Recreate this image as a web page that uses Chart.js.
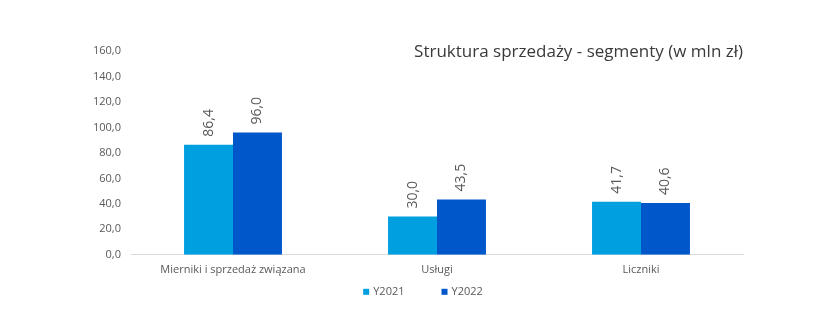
<!DOCTYPE html>
<html>
<head>
<meta charset="utf-8">
<script src="https://cdn.jsdelivr.net/npm/chart.js@4/dist/chart.umd.min.js"></script>
<style>
  html, body { margin: 0; padding: 0; background: #fff; }
  #wrap { width: 840px; height: 336px; }
</style>
</head>
<body>
<div id="wrap"><canvas id="myChart" width="840" height="336"></canvas></div>
<script>
// segmenty sprzedaży
var categories = ['Mierniki i sprzedaż związana', 'Usługi', 'Liczniki'];
var y2021 = [86.4, 30.0, 41.7];
var y2022 = [96.0, 43.5, 40.6];
var yTicks = [0, 20, 40, 60, 80, 100, 120, 140, 160];
var seriesNames = ['Y2021', 'Y2022'];
var seriesColors = ['#009FDF', '#0057C9'];

var chartTitle = 'Struktura sprzedaży - segmenty (w mln zł)';
var fontFamily = '"Open Sans", "Noto Sans", sans-serif';

function fmt(v) {
	return v.toFixed(1).replace('.', ',');
}

/* wartości nad słupkami, obrócone pionowo */
var valueLabels = {
	id: 'valueLabels',
	afterDatasetsDraw: function(chart) {
		var ctx = chart.ctx;
		ctx.save();
		ctx.font = '14px ' + fontFamily;
		ctx.fillStyle = '#595959';
		ctx.textAlign = 'left';
		ctx.textBaseline = 'middle';
		chart.data.datasets.forEach(function(ds, i) {
			var meta = chart.getDatasetMeta(i);
			meta.data.forEach(function(bar, j) {
				ctx.save();
				ctx.translate(bar.x, bar.y - 8);
				ctx.rotate(-Math.PI / 2);
				ctx.fillText(fmt(ds.data[j]), 0, 0);
				ctx.restore();
			});
		});
		ctx.restore();
	}
};

/* tytuł w prawym górnym rogu wykresu */
var cornerTitle = {
	id: 'cornerTitle',
	afterDraw: function(chart) {
		var ctx = chart.ctx;
		ctx.save();
		ctx.font = '17px ' + fontFamily;
		ctx.fillStyle = '#3A3A3A';
		ctx.textAlign = 'right';
		ctx.textBaseline = 'middle';
		ctx.fillText(chartTitle, chart.chartArea.right, 52);
		ctx.restore();
	}
};

/* legenda pod osią - małe kwadraty, szeroki odstęp */
var bottomLegend = {
	id: 'bottomLegend',
	afterDraw: function(chart) {
		var ctx = chart.ctx;
		var box = 6, gap = 4, spacing = 37;
		ctx.save();
		ctx.font = '11px ' + fontFamily;
		ctx.textBaseline = 'middle';
		ctx.textAlign = 'left';
		var widths = seriesNames.map(function(n) { return box + gap + ctx.measureText(n).width; });
		var total = widths.reduce(function(a, b) { return a + b; }, 0) + spacing * (widths.length - 1);
		var x = (chart.chartArea.left + chart.chartArea.right) / 2 - 14 - total / 2;
		var y = chart.chartArea.bottom + 37;
		seriesNames.forEach(function(n, i) {
			ctx.fillStyle = seriesColors[i];
			ctx.fillRect(x, y - box / 2, box, box);
			ctx.fillStyle = '#595959';
			ctx.fillText(n, x + box + gap, y);
			x += widths[i] + spacing;
		});
		ctx.restore();
	}
};

function createChart() {
	var ctx = document.getElementById('myChart').getContext('2d');
	return new Chart(ctx, {
		type: 'bar',
		data: {
			labels: categories,
			datasets: [{
				label: seriesNames[0],
				data: y2021,
				backgroundColor: seriesColors[0],
				categoryPercentage: 0.48,
				barPercentage: 1.0
			}, {
				label: seriesNames[1],
				data: y2022,
				backgroundColor: seriesColors[1],
				categoryPercentage: 0.48,
				barPercentage: 1.0
			}]
		},
		options: {
			responsive: false,
			animation: false,
			layout: { padding: { left: 83, right: 97, top: 51, bottom: 52 } },
			plugins: {
				legend: { display: false },
				tooltip: { enabled: false },
				title: { display: false }
			},
			scales: {
				x: {
					grid: { display: false, drawTicks: false },
					border: { display: true, color: '#D9D9D9', width: 1 },
					ticks: {
						color: '#595959',
						padding: 8,
						maxRotation: 0,
						font: { family: fontFamily, size: 11 }
					}
				},
				y: {
					min: 0,
					max: 160,
					grid: { display: false, drawTicks: false },
					border: { display: false },
					afterBuildTicks: function(axis) {
						axis.ticks = yTicks.map(function(v) { return { value: v }; });
					},
					ticks: {
						color: '#595959',
						padding: 10,
						font: { family: fontFamily, size: 11 },
						callback: function(v) { return fmt(v); }
					}
				}
			}
		},
		plugins: [valueLabels, cornerTitle, bottomLegend]
	});
}

createChart();
</script>
</body>
</html>
